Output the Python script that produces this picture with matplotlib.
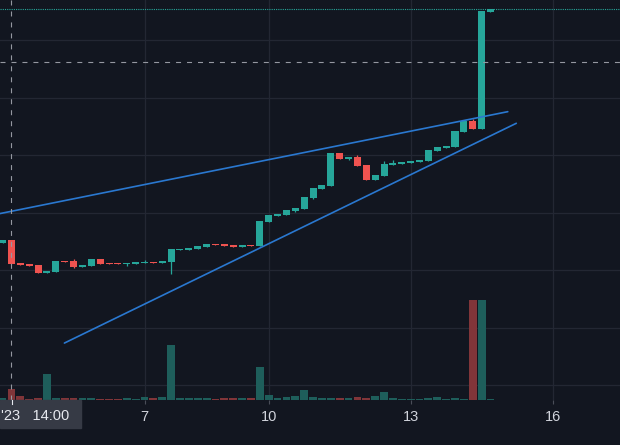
import matplotlib
matplotlib.use("Agg")
import matplotlib.pyplot as plt
import matplotlib.transforms as mtransforms
from matplotlib.patches import Rectangle
import numpy as np

plt.rcParams['font.family'] = ['Liberation Sans', 'DejaVu Sans']
plt.rcParams['lines.scale_dashes'] = False

# candle data (index = bar number on the chart)
opens = [102.35, 102.61, 100.61, 100.52, 100.43, 99.74, 99.83, 100.78, 100.78, 100.26,
         100.35, 100.96, 100.61, 100.61, 100.52, 100.52, 100.61, 100.70, 100.61, 100.70,
         101.74, 101.74, 101.83, 102.00, 102.26, 102.26, 102.17, 102.00, 102.17, 102.09,
         104.17, 104.70, 104.78, 105.13, 105.30, 106.26, 107.04, 107.30, 110.17, 109.65,
         109.83, 109.13, 107.83, 108.17, 109.13, 109.22, 109.30, 109.39, 109.48, 110.35,
         110.61, 110.70, 112.00, 112.96, 112.26, 122.43]
closes = [102.61, 100.52, 100.43, 100.35, 99.74, 99.91, 100.78, 100.70, 100.26, 100.43,
          100.96, 100.52, 100.52, 100.52, 100.61, 100.70, 100.70, 100.61, 100.78, 101.83,
          101.83, 101.91, 102.09, 102.26, 102.17, 102.09, 102.00, 102.17, 102.09, 104.26,
          104.78, 104.87, 105.22, 105.39, 106.35, 107.13, 107.39, 110.17, 109.65, 109.83,
          109.04, 107.83, 108.26, 109.22, 109.30, 109.39, 109.48, 109.57, 110.43, 110.70,
          110.78, 112.09, 112.96, 112.26, 122.52, 122.70]
# wicks that stick out of the body (others equal the body)
highs_extra = {8: 100.96, 16: 100.87, 40: 110.00, 43: 109.48, 44: 109.57, 53: 113.13}
lows_extra = {8: 100.17, 14: 100.35, 19: 99.65, 33: 105.04, 35: 106.17, 39: 109.57}
volumes = [2.5, 11, 4.5, 1.5, 2.5, 26, 2.5, 2.5, 2.5, 2.5,
           2.5, 1.5, 1.5, 1.5, 2.5, 1.5, 3.5, 2.5, 3.5, 55,
           2.5, 2.5, 2.5, 2.5, 1.5, 2.5, 2.5, 2.5, 2.5, 33,
           5.3, 2.5, 3.5, 4.5, 10.3, 3.5, 2.5, 2.5, 2.5, 2.5,
           3.5, 2.5, 4.5, 8.3, 2.5, 1.5, 1.5, 1.5, 2.5, 3.5,
           1.5, 2.5, 1.5, 100, 100, 1.5]

tick_pos = [16, 30, 46, 62]
tick_labels = ['7', '10', '13', '16']
crosshair_label = "'23   14:00"

# drawn trend lines: (x0, y0, x1, y1)
upper_trend = (-0.29, 104.91, 56.95, 113.77)
lower_trend = (6.97, 93.65, 57.91, 112.76)
crosshair_x = 1
crosshair_y = 118.09
price_grid = [90, 95, 100, 105, 110, 115, 120]

bg = '#121620'
grid_c = '#232733'
up_c = '#26a69a'
down_c = '#ef5350'
up_vol = '#1e5e5b'
down_vol = '#813539'
trend_c = '#2a78d0'
text_c = '#d1d4dc'

o = np.array(opens)
c = np.array(closes)
x = np.arange(len(o))
hi = np.maximum(o, c)
lo = np.minimum(o, c)
for k, v in highs_extra.items():
    hi[k] = v
for k, v in lows_extra.items():
    lo[k] = v
up = c >= o

fig = plt.figure(figsize=(6.2, 4.45), dpi=100)
fig.patch.set_facecolor(bg)
ax = fig.add_axes([0, 45 / 445, 1, 400 / 445])
ax.set_facecolor(bg)

# grid
for g in price_grid:
    ax.axhline(g, color=grid_c, lw=0.9, zorder=0)
for t in tick_pos:
    ax.axvline(t, color=grid_c, lw=0.9, zorder=0)

# volume overlay: x in data, y in its own scale (0..400 over the panel)
vol_tr = mtransforms.blended_transform_factory(
    ax.transData, mtransforms.Affine2D().scale(1, 1 / 400) + ax.transAxes)
vcols = [up_vol if u else down_vol for u in up]
ax.bar(x, volumes, width=0.88, color=vcols, transform=vol_tr, zorder=1)

# candles
ccols = [up_c if u else down_c for u in up]
ax.vlines(x, lo, hi, colors=ccols, lw=0.9, zorder=2)
ax.bar(x, np.maximum(np.abs(c - o), 0.08), bottom=np.minimum(o, c), width=0.79,
       color=ccols, zorder=3)

# trend lines
for tl in (upper_trend, lower_trend):
    ax.plot([tl[0], tl[2]], [tl[1], tl[3]], color=trend_c, lw=1.2,
            solid_capstyle='round', zorder=4)

# last price line and crosshair
ax.axhline(c[-1], color=up_c, lw=0.8, dashes=(0.8, 0.8), zorder=2)
ax.axhline(crosshair_y, color='#9598a1', lw=0.8, dashes=(3.6, 4.3), zorder=5)
ax.axvline(crosshair_x, color='#9598a1', lw=0.8, dashes=(3.6, 4.3), zorder=5)

ax.set_xlim(-0.29, 69.6)
ax.set_ylim(88.70, 123.48)
ax.set_yticks([])
ax.set_xticks(tick_pos)
ax.set_xticklabels(tick_labels)
ax.tick_params(axis='x', colors='#4a4e59', labelcolor=text_c, length=3,
               width=0.8, pad=4, labelsize=10.5)
for s in ax.spines.values():
    s.set_visible(False)

# crosshair time label on the axis
fig.add_artist(Rectangle((0, 17 / 445), 81 / 620, 28 / 445,
                         transform=fig.transFigure, color='#363a45', zorder=10))
fig.text(69 / 620, 28.5 / 445, crosshair_label, ha='right', va='center',
         color='#e6e8ee', fontsize=10.5, zorder=11)
fig.add_artist(plt.Line2D([11.5 / 620, 11.5 / 620], [41 / 445, 45 / 445],
                          transform=fig.transFigure, color='#e6e8ee', lw=0.8,
                          zorder=11))

fig.savefig('out.png', dpi=100, facecolor=bg)
